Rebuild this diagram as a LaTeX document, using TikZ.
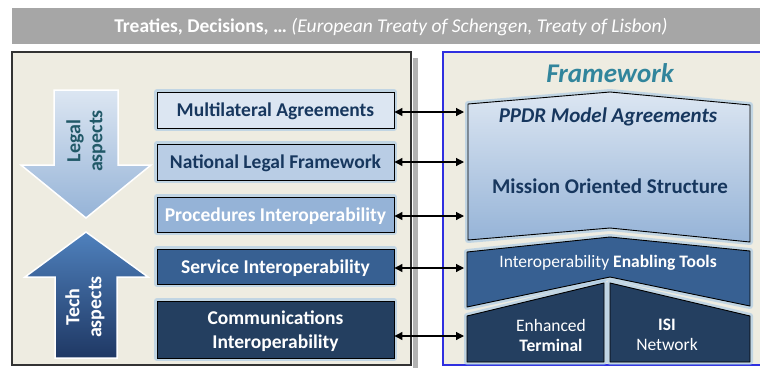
\documentclass[tikz,border=0pt]{standalone}
\usepackage{fontspec}
\setmainfont{Carlito}
\usetikzlibrary{arrows.meta}
\definecolor{bannerc}{HTML}{A6A6A6}
\definecolor{panelc}{HTML}{EEECE1}
\definecolor{navy}{HTML}{17375E}
\definecolor{c1}{HTML}{DCE6F2}
\definecolor{c2}{HTML}{B9CDE5}
\definecolor{c3}{HTML}{95B3D7}
\definecolor{c4}{HTML}{376092}
\definecolor{c5}{HTML}{243F60}
\definecolor{glowc}{HTML}{9DC3E6}
\definecolor{framec}{HTML}{31859C}
\definecolor{legalc}{HTML}{215968}
\definecolor{techtop}{HTML}{4F81BD}
\definecolor{techbot}{HTML}{1F3864}
\definecolor{bluec}{HTML}{2F2FE0}
\begin{document}
\begin{tikzpicture}[x=1pt,y=-1pt,
  glow/.style={preaction={draw=glowc, line width=6pt, opacity=.55, line join=round}},
  lbox/.style={glow, draw=black, line width=0.9pt, minimum width=237pt, inner sep=0pt,
     text depth=0pt, align=center, font=\fontsize{19.5}{23}\selectfont\bfseries},
  shp/.style={glow, draw=black, line width=0.9pt, line join=round},
  wtxt/.style={text=white, font=\fontsize{17.5}{20}\selectfont, align=center},
  dbl/.style={{Triangle[length=8pt,width=8pt]}-{Triangle[length=8pt,width=8pt]}, line width=1.2pt, black},
  bigarrow/.style={draw=white, line width=1.5pt, line join=miter}
]
\useasboundingbox (0,0) rectangle (760,367);
% banner
\fill[bannerc] (12,8) rectangle (762,44);
\node[text=white, font=\fontsize{19.5}{22}\selectfont] (banner) at (391,27)
  {\textbf{Treaties, Decisions, \dots} \textit{(European Treaty of Schengen, Treaty of Lisbon)}};
% panels
\fill[black!30] (413,58) rectangle (418,368);
\draw[fill=panelc, draw=black!80, line width=1.2pt] (12,52) rectangle (411,365);
\draw[fill=panelc, draw=bluec, line width=1.2pt] (443,52) rectangle (764,365);
% legal arrow
\shade[top color=c1, bottom color=c3] (54,90) -- (118,90) -- (118,165) -- (151,165) -- (86,218) -- (21,165) -- (54,165) -- cycle;
\draw[bigarrow] (54,90) -- (118,90) -- (118,165) -- (151,165) -- (86,218) -- (21,165) -- (54,165) -- cycle;
\node[rotate=90, text=legalc, align=center, font=\fontsize{20}{22}\selectfont\bfseries] (legal) at (86,141) {Legal\\aspects};
% tech arrow
\shade[top color=techtop, bottom color=techbot] (86,232) -- (148,277) -- (117,277) -- (117,358) -- (55,358) -- (55,277) -- (25,277) -- cycle;
\draw[bigarrow] (86,232) -- (148,277) -- (117,277) -- (117,358) -- (55,358) -- (55,277) -- (25,277) -- cycle;
\node[rotate=90, text=white, align=center, font=\fontsize{20}{22}\selectfont\bfseries] (tech) at (85,307) {Tech\\aspects};
% left boxes
\node[lbox, fill=c1, text=navy, minimum height=36pt] (b1) at (275.5,110) {Multilateral Agreements};
\node[lbox, fill=c2, text=navy, minimum height=36pt] (b2) at (275.5,162) {National Legal Framework};
\node[lbox, fill=c3, text=white, minimum height=35pt] (b3) at (275.5,214.5) {Procedures Interoperability};
\node[lbox, fill=c4, text=white, minimum height=35pt] (b4) at (275.5,266.5) {Service Interoperability};
\node[lbox, fill=c5, text=white, minimum height=57pt, font=\fontsize{19.5}{24}\selectfont\bfseries] (b5) at (275.5,329.5) {Communications\\Interoperability};
% framework
\node[text=framec, font=\fontsize{27}{30}\selectfont\bfseries\itshape] (fw) at (610,73) {Framework};
% right shapes
\path[shp, top color=c1, bottom color=c3] (468,104) -- (610,92) -- (750,105) -- (750,242) -- (610,228) -- (468,240) -- cycle;
\path[shp, fill=c4] (467,252) -- (610,237) -- (750,251) -- (750,306) -- (610,277) -- (467,307) -- cycle;
\path[shp, fill=c5] (467,316) -- (604,283) -- (604,362) -- (467,362) -- cycle;
\path[shp, fill=c5] (610,283) -- (750,316) -- (750,362) -- (610,362) -- cycle;
\node[text=navy, font=\fontsize{21}{24}\selectfont\bfseries\itshape] (ppdr) at (608,117) {PPDR Model Agreements};
\node[text=navy, font=\fontsize{21}{24}\selectfont\bfseries] (mos) at (610,186) {Mission Oriented Structure};
\node[wtxt] (iet) at (608,263) {Interoperability \textbf{Enabling Tools}};
\node[wtxt] (term) at (551,335) {Enhanced\\\textbf{Terminal}};
\node[wtxt] (isi) at (667,335) {\textbf{ISI}\\Network};
% arrow ends
\coordinate (r1) at (464,112);
\coordinate (r2) at (464,162);
\coordinate (r3) at (464,216);
\coordinate (r4) at (464,268);
\coordinate (r5) at (464,336);
\draw[dbl] (b1.east |- r1) -- (r1);
\draw[dbl] (b2.east |- r2) -- (r2);
\draw[dbl] (b3.east |- r3) -- (r3);
\draw[dbl] (b4.east |- r4) -- (r4);
\draw[dbl] (b5.east |- r5) -- (r5);
\end{tikzpicture}
\end{document}
